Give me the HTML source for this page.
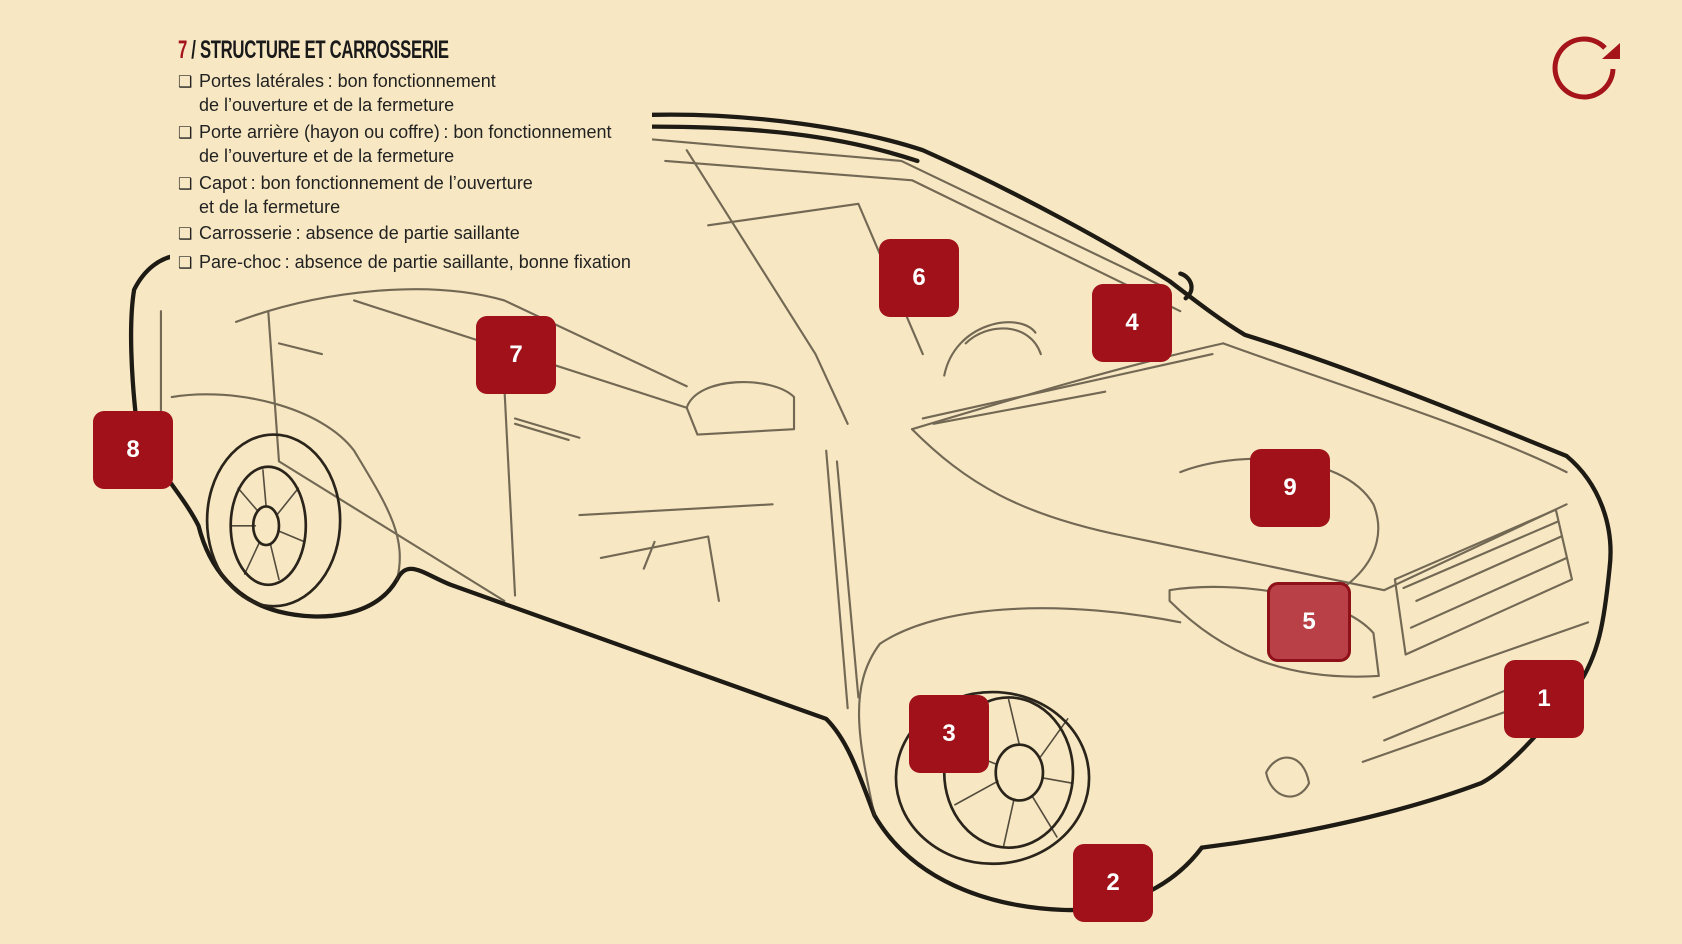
<!DOCTYPE html>
<html><head><meta charset="utf-8"><style>
html,body{margin:0;padding:0}
body{width:1682px;height:944px;background:#f7e8c3;position:relative;overflow:hidden;font-family:"Liberation Sans",sans-serif}
svg.car{position:absolute;left:0;top:0}
.panel{position:absolute;left:170px;top:22px;width:482px;height:262px;background:#f7e8c3}
.title{position:absolute;left:178px;top:36px;font-family:"Liberation Sans Narrow","Liberation Sans",sans-serif;font-weight:bold;font-size:25px;letter-spacing:-0.5px;color:#1a1a1a;transform:scaleX(0.67);transform-origin:left}
.title span{color:#a51419}
.item{position:absolute;left:178px;font-size:18px;line-height:23px;color:#222}
.item b{font-weight:normal;display:inline-block;width:21px;font-size:16px}
.item i{font-style:normal;display:block;padding-left:21px}
.badge{position:absolute;width:80px;height:78px;background:#a01119;border-radius:11px;color:#fff;font-size:24px;font-weight:bold;display:flex;align-items:center;justify-content:center;box-sizing:border-box}
</style></head><body>
<svg class="car" width="1682" height="944" viewBox="0 0 1682 944">
<g transform="scale(1.073)" fill="none" stroke-linecap="round" stroke-linejoin="round">
<g stroke="#1e1a14" stroke-width="4">
<path d="M608,107 C700,105 800,120 860,140 C950,180 1040,230 1090,262 C1120,285 1140,300 1160,312 C1250,340 1350,380 1460,425 C1490,450 1505,490 1500,530 C1495,580 1490,610 1470,640 C1430,690 1400,720 1380,730 C1300,760 1200,780 1120,790"/>
<path d="M1120,790 C1090,830 1040,850 990,848 C920,845 850,820 815,760 C800,720 790,690 770,670 L420,545 C395,535 380,520 370,540 C350,575 300,580 260,570 C220,560 195,530 185,490 C170,460 140,430 128,400 C122,350 120,300 125,270 C135,250 150,240 165,238"/>
<path d="M1100,255 C1110,258 1115,270 1105,278"/>
<path d="M608,118 C700,118 780,125 855,150"/>
</g>
<g stroke="#3a3226" stroke-width="2" opacity="0.7">
<path d="M608,130 L840,150 L1090,270"/>
<path d="M620,150 L850,168 L1100,290"/>
<path d="M640,140 L760,330 L790,395"/>
<path d="M660,210 L800,190 L860,330"/>
<path d="M850,400 C950,370 1050,340 1140,320"/>
<path d="M860,390 L1130,330 M870,395 L1030,365"/>
<path d="M850,400 C900,450 950,480 1050,500 L1290,550 L1460,470"/>
<path d="M1140,320 C1250,360 1380,400 1460,440"/>
<path d="M780,430 L800,650 M770,420 L790,660"/>
<path d="M470,360 L480,555 M480,300 L490,360"/>
<path d="M250,290 L260,430 L470,560"/>
<path d="M220,300 C300,270 400,260 470,280 L640,360"/>
<path d="M330,280 L640,380 M480,390 L540,408"/>
<path d="M640,380 C650,350 720,350 740,370 L740,400 L650,405 Z"/>
<path d="M1090,550 C1150,540 1250,555 1280,590 L1285,630 C1200,635 1140,610 1090,560 Z"/>
<path d="M1300,540 L1450,475 L1465,540 L1310,610 Z"/>
<path d="M1320,560 L1455,500 M1315,585 L1460,520 M1308,548 L1452,486"/>
<path d="M1280,650 L1480,580 M1290,690 L1460,620 M1270,710 L1470,640"/>
<path d="M1100,580 C1000,560 880,560 820,600 C790,640 800,690 815,760"/>
<path d="M160,370 C220,360 300,380 330,420 C360,470 380,500 370,540"/>
<path d="M880,350 C890,300 950,290 965,310 M900,320 C920,300 960,300 970,330"/>
<path d="M560,520 L660,500 L670,560 M600,530 L610,505"/>
<path d="M540,480 L720,470 M150,290 L150,420"/>
<path d="M1180,720 C1190,700 1215,700 1220,730 C1210,750 1185,745 1180,720"/>
<path d="M1100,440 C1150,420 1250,420 1280,470 C1300,520 1250,560 1200,570"/>
<path d="M260,320 L300,330 M480,395 L530,410"/>
</g>
<g stroke="#2a241b" stroke-width="2.5">
<ellipse cx="925" cy="725" rx="90" ry="80"/>
<ellipse cx="940" cy="720" rx="60" ry="70"/>
<ellipse cx="950" cy="720" rx="22" ry="26"/>
<ellipse cx="255" cy="485" rx="62" ry="80"/>
<ellipse cx="250" cy="490" rx="35" ry="55"/>
<ellipse cx="248" cy="490" rx="12" ry="18"/>
</g>
<g stroke="#2a241b" stroke-width="1.5" opacity="0.8">
<path d="M950,694 L940,652 M970,705 L995,670 M972,725 L1000,730 M962,742 L985,780 M945,745 L935,790 M930,728 L890,750 M928,712 L885,695"/>
<path d="M248,472 L245,438 M258,480 L278,455 M260,495 L284,505 M252,507 L260,540 M242,505 L228,535 M238,490 L216,490 M240,476 L222,455"/>
</g>
</g>
</svg>
<div class="panel"></div>
<div class="title"><span>7</span> / STRUCTURE ET CARROSSERIE</div>
<div class="item" style="top:70px"><b>❑</b>Portes latérales&#8239;: bon fonctionnement<i>de l’ouverture et de la fermeture</i></div>
<div class="item" style="top:121px"><b>❑</b>Porte arrière (hayon ou coffre)&#8239;: bon fonctionnement<i>de l’ouverture et de la fermeture</i></div>
<div class="item" style="top:172px"><b>❑</b>Capot&#8239;: bon fonctionnement de l’ouverture<i>et de la fermeture</i></div>
<div class="item" style="top:222px"><b>❑</b>Carrosserie&#8239;: absence de partie saillante</div>
<div class="item" style="top:251px"><b>❑</b>Pare-choc&#8239;: absence de partie saillante, bonne fixation</div>
<svg style="position:absolute;left:1550px;top:33px" width="72" height="72" viewBox="0 0 72 72">
<path d="M63,36 A29,29 0 1 1 55,15" fill="none" stroke="#a51419" stroke-width="5"/>
<path d="M52,26 L70,26 L70,10 Z" fill="#a51419"/>
</svg>
<div class="badge" style="left:1504px;top:660px">1</div>
<div class="badge" style="left:1073px;top:844px">2</div>
<div class="badge" style="left:909px;top:695px">3</div>
<div class="badge" style="left:1092px;top:284px">4</div>
<div class="badge" style="left:1267px;top:582px;width:84px;height:80px;background:#b94047;border:3px solid #8e1018">5</div>
<div class="badge" style="left:879px;top:239px">6</div>
<div class="badge" style="left:476px;top:316px">7</div>
<div class="badge" style="left:93px;top:411px">8</div>
<div class="badge" style="left:1250px;top:449px">9</div>
</body></html>
